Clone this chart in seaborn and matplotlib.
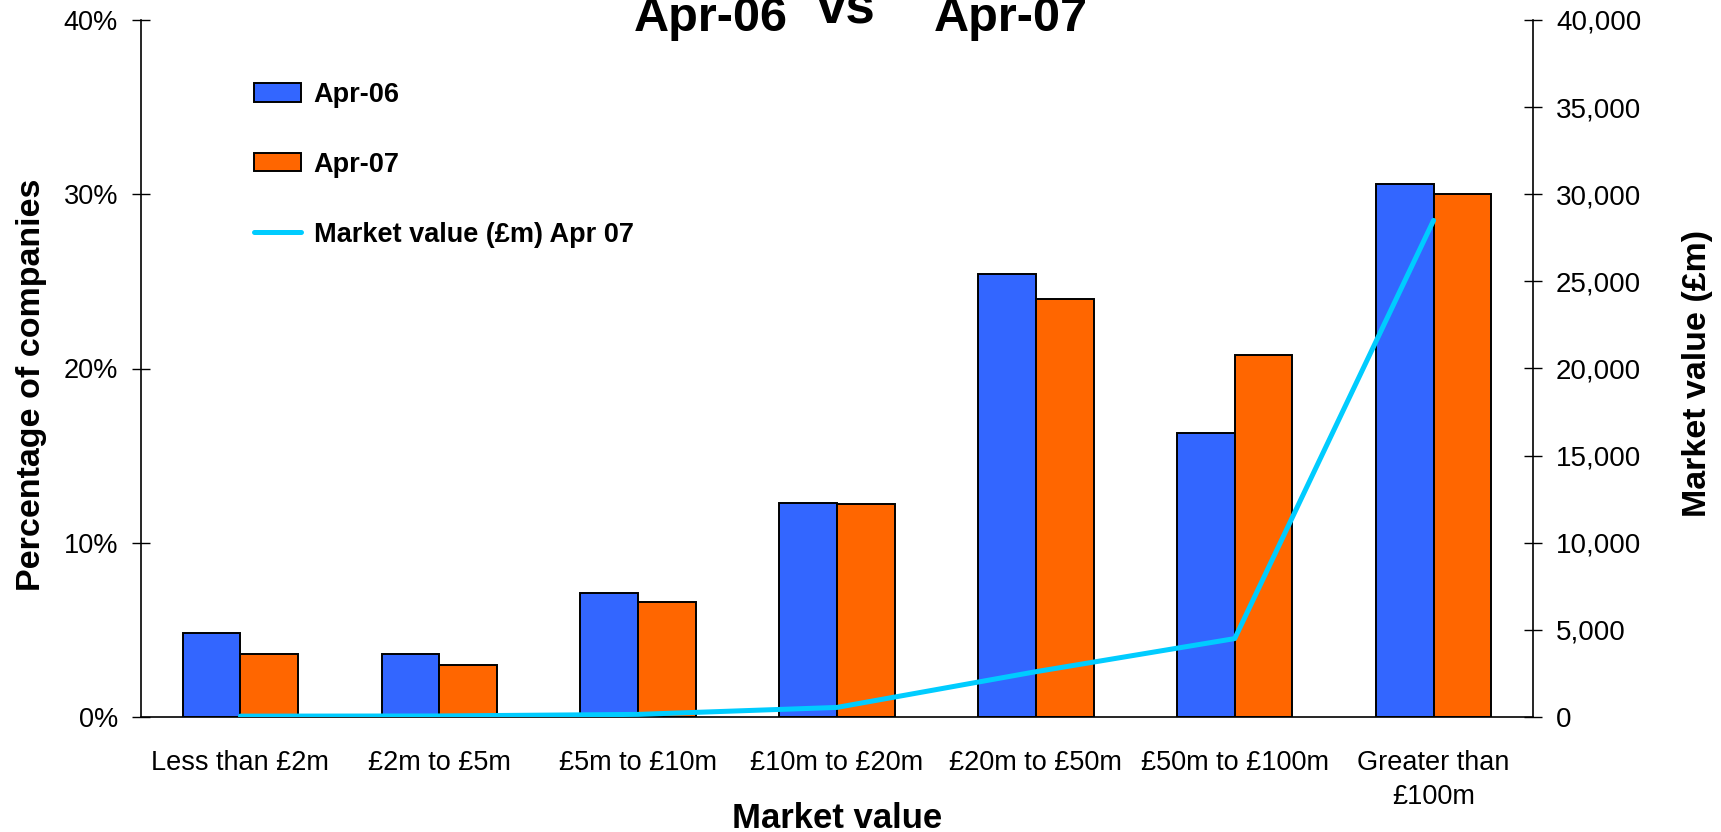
import numpy as np
import pandas as pd
import matplotlib
matplotlib.use("Agg")
import matplotlib.pyplot as plt
import matplotlib.ticker as mticker
import seaborn as sns

# the data
categories = ["Less than £2m", "£2m to £5m", "£5m to £10m", "£10m to £20m",
              "£20m to £50m", "£50m to £100m", "Greater than\n£100m"]
pct_apr06 = [4.8, 3.6, 7.1, 12.3, 25.4, 16.3, 30.6]
pct_apr07 = [3.6, 3.0, 6.6, 12.2, 24.0, 20.8, 30.0]
market_value_apr07 = [50, 60, 150, 550, 2600, 4500, 28500]
years = ["Apr-06", "Apr-07"]
line_label = "Market value (£m) Apr 07"

bar_colors = ["#3366FF", "#FF6600"]
line_color = "#00CCFF"

sns.set_style("white")
plt.rcParams["font.family"] = ["Liberation Sans", "DejaVu Sans"]
plt.rcParams.update({"text.color": "black", "axes.labelcolor": "black",
                     "xtick.color": "black", "ytick.color": "black"})

df = pd.DataFrame({
    "category": categories * 2,
    "pct": pct_apr06 + pct_apr07,
    "year": [years[0]] * len(categories) + [years[1]] * len(categories),
})

fig = plt.figure(figsize=(17.21, 8.32), dpi=100)
ax = fig.add_axes([141 / 1721, 1 - 717 / 832, (1533 - 141) / 1721, (717 - 20) / 832])

sns.barplot(data=df, x="category", y="pct", hue="year", palette=bar_colors,
            width=0.58, gap=0, edgecolor="black", linewidth=1.4,
            saturation=1, ax=ax)
handles, labels = ax.get_legend_handles_labels()
if ax.get_legend() is not None:
    ax.get_legend().remove()

ax2 = ax.twinx()
sns.lineplot(x=np.arange(len(categories)), y=market_value_apr07, color=line_color,
             linewidth=3.6, label=line_label, ax=ax2)
h2, l2 = ax2.get_legend_handles_labels()
if ax2.get_legend() is not None:
    ax2.get_legend().remove()

# axes limits and ticks
ax.set_xlim(-0.5, len(categories) - 0.5)
ax.set_ylim(0, 40)
ax.set_yticks(np.arange(0, 41, 10))
ax.yaxis.set_major_formatter(mticker.FuncFormatter(lambda v, p: f"{v:.0f}%"))
ax2.set_ylim(0, 40000)
ax2.set_yticks(np.arange(0, 40001, 5000))
ax2.yaxis.set_major_formatter(mticker.FuncFormatter(lambda v, p: f"{v:,.0f}"))

ax.set_xticks(np.arange(len(categories)))
ax.set_xticklabels(categories, linespacing=1.4)
ax.set_xticks(np.arange(-0.5, len(categories)), minor=True)
ax.tick_params(axis="x", which="major", length=0, pad=24, labelsize=19.5)
ax.tick_params(axis="x", which="minor", length=13, direction="inout", width=1)
ax.tick_params(axis="y", length=13, direction="inout", width=1, pad=10,
               labelsize=19.5, left=True)
ax2.tick_params(axis="y", length=13, direction="inout", width=1, pad=10,
                labelsize=20, right=True)

for a in (ax, ax2):
    a.spines["top"].set_visible(False)
    for s in ("left", "right", "bottom"):
        a.spines[s].set_color("black")
        a.spines[s].set_linewidth(1.2)
ax.spines["right"].set_visible(False)
ax2.spines["left"].set_visible(False)
ax2.spines["bottom"].set_visible(False)

ax.set_xlabel("Market value", fontsize=25, fontweight="bold")
ax.xaxis.set_label_coords(0.5, -0.122)
ax.set_ylabel("Percentage of companies", fontsize=24.5, fontweight="bold")
ax.yaxis.set_label_coords(-0.0675, 0.477)
ax2.set_ylabel("Market value (£m)", fontsize=24.5, fontweight="bold")
ax2.yaxis.set_label_coords(1.107, 0.493)

# title split in three pieces, "vs" sits a little higher
fig.text(711 / 1721, 1 - 31 / 832, "Apr-06", ha="center", va="baseline",
         fontsize=35, fontweight="bold")
fig.text(846 / 1721, 1 - 24 / 832, "vs", ha="center", va="baseline",
         fontsize=38, fontweight="bold")
fig.text(1011 / 1721, 1 - 31 / 832, "Apr-07", ha="center", va="baseline",
         fontsize=35, fontweight="bold")

fig.legend(handles + h2, labels + l2, loc="upper left",
           bbox_to_anchor=(254 / 1721, 1 - 82 / 832), bbox_transform=fig.transFigure,
           frameon=False, borderpad=0, borderaxespad=0,
           prop={"size": 19.5, "weight": "bold"},
           labelspacing=1.62, handlelength=1.75, handleheight=0.65, handletextpad=0.45)

fig.savefig("out.png", dpi=100)
